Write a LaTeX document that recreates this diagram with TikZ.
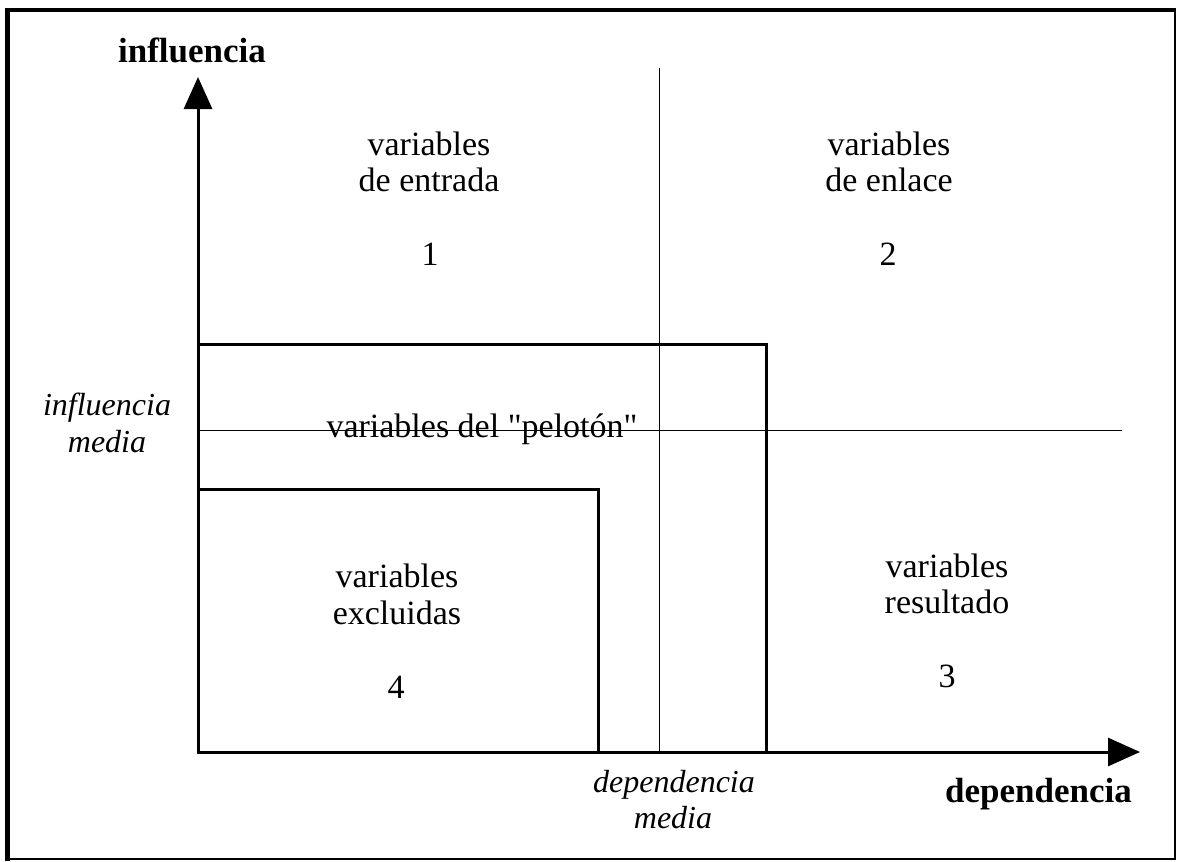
\documentclass[tikz,border=0pt]{standalone}
\usepackage{fontspec}
\setmainfont{Liberation Serif}
\newfontfamily\plainrm{Liberation Serif}
\usetikzlibrary{arrows.meta}
\tikzset{
  lbl/.style={anchor=base, inner sep=0pt, font=\fontsize{34}{38}\selectfont},
  ilbl/.style={anchor=base, inner sep=0pt, font=\fontsize{32}{36}\selectfont\itshape},
  blbl/.style={anchor=base, inner sep=0pt, font=\fontsize{35}{38}\selectfont\bfseries},
  axis/.style={line width=3pt, -{Triangle[length=32pt,width=28pt]}},
  zone/.style={line width=3pt},
  mid/.style={line width=1pt},
  frame/.style={line width=2.5pt}
}
\begin{document}
\begin{tikzpicture}[x=1pt,y=-1pt]
\useasboundingbox (0,0) rectangle (1178,862);
% frame
\draw[frame] (7,10) rectangle (1175,859);
\draw[line width=5pt] (7,8) -- (7,861);
\draw[line width=4pt] (5,10) -- (1176,10);
% coordinates
\coordinate (O) at (198,752);
\coordinate (ytip) at (198,77);
\coordinate (xtip) at (1140,752);
\coordinate (hl) at (198,430);
\coordinate (hr) at (1122,430);
\coordinate (vt) at (659,68);
\coordinate (vb) at (659,752);
\coordinate (bigtl) at (198,344);
\coordinate (bigtr) at (766,344);
\coordinate (bigbr) at (766,752);
\coordinate (smtl) at (198,489);
\coordinate (smtr) at (598,489);
\coordinate (smbr) at (598,752);
% medium lines
\draw[mid] (hl) -- (hr);
\draw[mid] (vt) -- (vb);
% zones
\draw[zone] (bigtl) -- (bigtr) -- (bigbr);
\draw[zone] (smtl) -- (smtr) -- (smbr);
% axes
\draw[axis] ([yshift=-1.5pt]O) -- (ytip);
\draw[axis] ([xshift=-1.5pt]O) -- (xtip);
% axis titles
\node[blbl] (infl) at (192,62) {influencia};
\node[blbl, anchor=base east] (dep) at (1132,802) {dependencia};
\node[ilbl] (im1) at (107,415) {influencia};
\node[ilbl] (im2) at (107,452) {media};
\node[ilbl] (dm1) at (674,792) {dependencia};
\node[ilbl] (dm2) at (673,828) {media};
% zone labels
\node[lbl] (e1) at (429,155) {variables};
\node[lbl] (e2) at (429,191) {de entrada};
\node[lbl] (n1) at (430,265) {1};
\node[lbl] (l1) at (889,155) {variables};
\node[lbl] (l2) at (889,191) {de enlace};
\node[lbl] (n2) at (888,265) {2};
\node[lbl] (p1) at (482,437) {variables del {\plainrm "}pelotón{\plainrm "}};
\node[lbl] (x1) at (397,587) {variables};
\node[lbl] (x2) at (397,624) {excluidas};
\node[lbl] (n4) at (396,698) {4};
\node[lbl] (r1) at (947,577) {variables};
\node[lbl] (r2) at (947,613) {resultado};
\node[lbl] (n3) at (947,687) {3};
\end{tikzpicture}
\end{document}
